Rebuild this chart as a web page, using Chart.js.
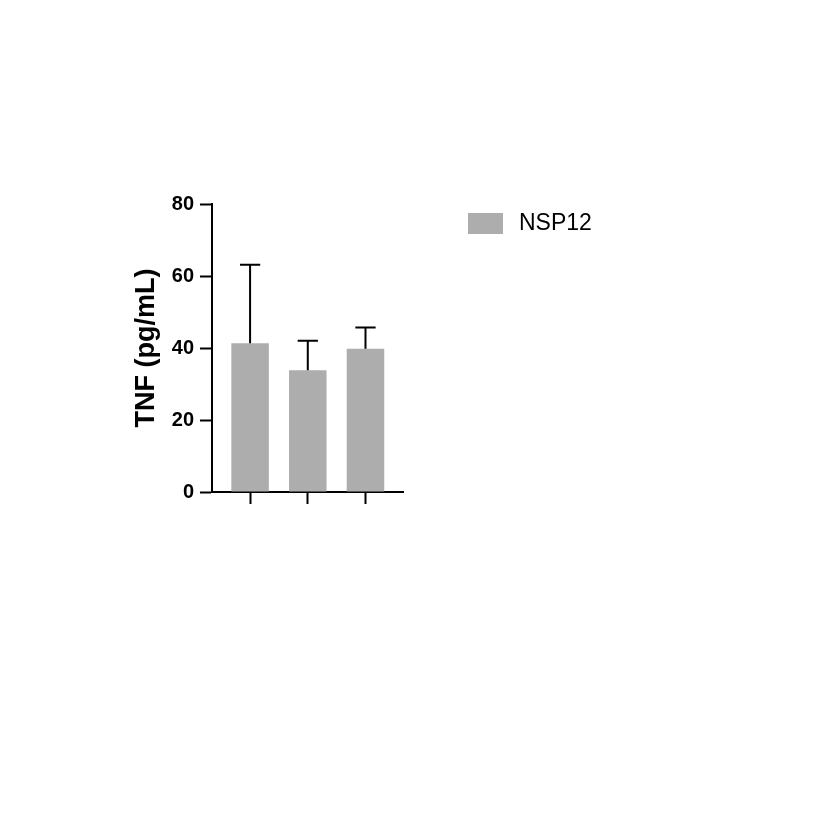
<!DOCTYPE html>
<html>
<head>
<meta charset="utf-8">
<script src="https://cdn.jsdelivr.net/npm/chart.js@4.4.1/dist/chart.umd.min.js"></script>
<style>
  html, body { margin: 0; padding: 0; background: #fff; }
  #wrap { width: 816px; height: 824px; }
</style>
</head>
<body>
<div id="wrap"><canvas id="chart" width="816" height="824"></canvas></div>
<script>
// groups have no labels on the axis
const categories = ['', '', ''];
const seriesName = 'NSP12';
const means = [41.3, 33.8, 39.8];
const sd = [21.8, 8.2, 5.9];
const yTicks = [0, 20, 40, 60, 80];

const barColor = '#adadad';
const fontFamily = '"Liberation Sans", Arial, Helvetica, sans-serif';

// draws the upper half of the error bars (mean + sd)
const errorBars = {
  id: 'errorBars',
  afterDatasetsDraw(chart) {
    const ctx = chart.ctx;
    const meta = chart.getDatasetMeta(0);
    const y = chart.scales.y;
    ctx.save();
    ctx.strokeStyle = '#000';
    ctx.lineWidth = 2;
    meta.data.forEach((bar, i) => {
      const top = y.getPixelForValue(means[i] + sd[i]);
      const half = bar.width * 0.27;
      ctx.beginPath();
      ctx.moveTo(bar.x, bar.y);
      ctx.lineTo(bar.x, top);
      ctx.moveTo(bar.x - half, top);
      ctx.lineTo(bar.x + half, top);
      ctx.stroke();
    });
    ctx.restore();
  }
};

// legend sits to the right of the plot, outside the chart area
const sideLegend = {
  id: 'sideLegend',
  afterDraw(chart) {
    const ctx = chart.ctx;
    const area = chart.chartArea;
    const ds = chart.data.datasets[0];
    const bx = area.right + 65;
    const by = area.top + 9;
    ctx.save();
    ctx.fillStyle = ds.backgroundColor;
    ctx.fillRect(bx, by, 35, 21);
    ctx.fillStyle = '#000';
    ctx.font = '23px ' + fontFamily;
    ctx.textBaseline = 'middle';
    ctx.fillText(ds.label, bx + 51, by + 11);
    ctx.restore();
  }
};

new Chart(document.getElementById('chart'), {
  type: 'bar',
  data: {
    datasets: [{
      label: seriesName,
      data: means.map((v, i) => ({ x: i, y: v })),
      backgroundColor: barColor,
      borderWidth: 0,
      categoryPercentage: 1,
      barPercentage: 0.65
    }]
  },
  options: {
    responsive: false,
    animation: false,
    layout: { padding: { left: 128, top: 204, right: 413, bottom: 312 } },
    plugins: { legend: { display: false }, tooltip: { enabled: false } },
    scales: {
      x: {
        type: 'linear',
        offset: false,
        min: -0.66,
        max: 2.65,
        afterBuildTicks: (s) => { s.ticks = categories.map((c, i) => ({ value: i })); },
        afterFit: (s) => { s.height = 20; },
        ticks: { callback: (v) => categories[v] || '', font: { size: 1 }, padding: 0 },
        grid: { offset: false, drawOnChartArea: false, drawTicks: true, tickLength: 12, tickWidth: 2, tickColor: '#000' },
        border: { display: true, color: '#000', width: 2 }
      },
      y: {
        min: 0,
        max: 80,
        afterBuildTicks: (s) => { s.ticks = yTicks.map(v => ({ value: v })); },
        afterFit: (s) => { s.width = 84; },
        ticks: {
          color: '#000',
          padding: 6,
          font: { family: fontFamily, size: 20, weight: 'bold' }
        },
        title: {
          display: true,
          text: 'TNF (pg/mL)',
          color: '#000',
          padding: { top: 2, bottom: 0 },
          font: { family: fontFamily, size: 27, weight: 'bold' }
        },
        grid: { drawOnChartArea: false, drawTicks: true, tickLength: 12, tickWidth: 2, tickColor: '#000' },
        border: { display: true, color: '#000', width: 2 }
      }
    }
  },
  plugins: [errorBars, sideLegend]
});
</script>
</body>
</html>
